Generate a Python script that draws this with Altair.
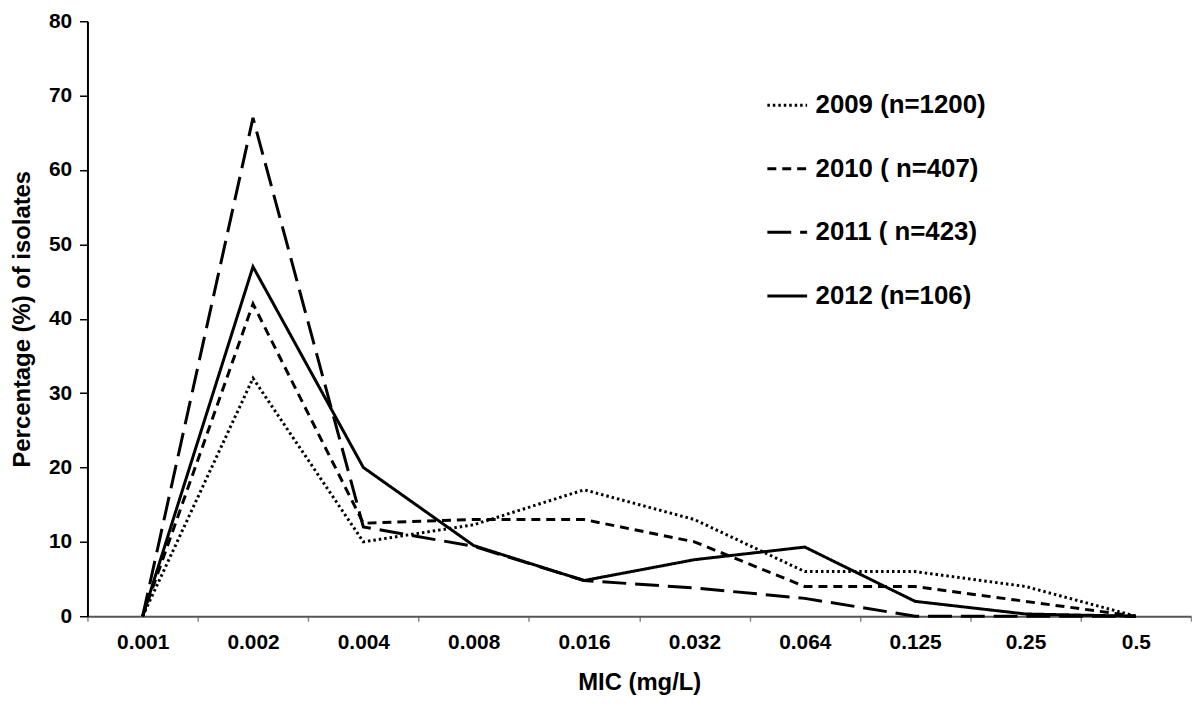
import altair as alt
import pandas as pd

mic = ["0.001", "0.002", "0.004", "0.008", "0.016", "0.032", "0.064", "0.125", "0.25", "0.5"]
series = ["2009 (n=1200)", "2010 ( n=407)", "2011 ( n=423)", "2012 (n=106)"]
y2009 = [0, 32, 10, 12.3, 17, 13, 6, 6, 4, 0]
y2010 = [0, 42, 12.5, 13, 13, 10, 4, 4, 2, 0]
y2011 = [0, 67, 12, 9.4, 4.8, 3.8, 2.4, 0, 0, 0]
y2012 = [0, 47, 20, 9.5, 4.8, 7.6, 9.3, 2, 0.3, 0]

rows = []
for name, vals in zip(series, [y2009, y2010, y2011, y2012]):
    for m, v in zip(mic, vals):
        rows.append({"mic": m, "pct": v, "series": name})
df = pd.DataFrame(rows)

FONT = "Liberation Sans"

chart = alt.Chart(df).mark_line(color="black", strokeWidth=3).encode(
    x=alt.X(
        "mic:N",
        sort=mic,
        scale=alt.Scale(type="band", paddingInner=0, paddingOuter=0),
        bandPosition=0.5,
        axis=alt.Axis(
            title="MIC (mg/L)",
            tickBand="extent",
            labelAngle=0,
            domainColor="#555555",
            domainWidth=2,
            tickColor="#888888",
            tickWidth=1.5,
            tickSize=5,
            labelPadding=11,
            labelFont=FONT,
            labelFontSize=21,
            labelFontWeight="bold",
            labelColor="black",
            titleFont=FONT,
            titleFontSize=24,
            titleFontWeight="bold",
            titleColor="black",
            titlePadding=18,
            grid=False,
        ),
    ),
    y=alt.Y(
        "pct:Q",
        scale=alt.Scale(domain=[0, 80], nice=False),
        axis=alt.Axis(
            title="Percentage (%) of isolates",
            values=list(range(0, 81, 10)),
            domainColor="black",
            domainWidth=2,
            tickColor="black",
            tickWidth=1.5,
            tickSize=8,
            labelPadding=8,
            labelFont=FONT,
            labelFontSize=21,
            labelFontWeight="bold",
            labelColor="black",
            titleFont=FONT,
            titleFontSize=24,
            titleFontWeight="bold",
            titleColor="black",
            titlePadding=14,
            grid=False,
        ),
    ),
    strokeDash=alt.StrokeDash(
        "series:N",
        sort=series,
        scale=alt.Scale(domain=series, range=[[2.5, 3], [9, 6], [24, 9], [1, 0]]),
        legend=alt.Legend(
            orient="none",
            legendX=683,
            legendY=63,
            title=None,
            symbolType="stroke",
            symbolSize=1600,
            symbolStrokeWidth=3,
            symbolStrokeColor="black",
            labelFont=FONT,
            labelFontSize=26,
            labelFontWeight="bold",
            labelColor="black",
            labelOffset=7,
            labelLimit=400,
            rowPadding=29,
        ),
    ),
    detail="series:N",
).properties(
    width=1111,
    height=599,
    autosize=alt.AutoSizeParams(type="none"),
    padding={"left": 80, "top": 11, "right": 1, "bottom": 80},
).configure_view(strokeWidth=0)

chart.save("out.html", embed_options={"renderer": "svg", "actions": False})
